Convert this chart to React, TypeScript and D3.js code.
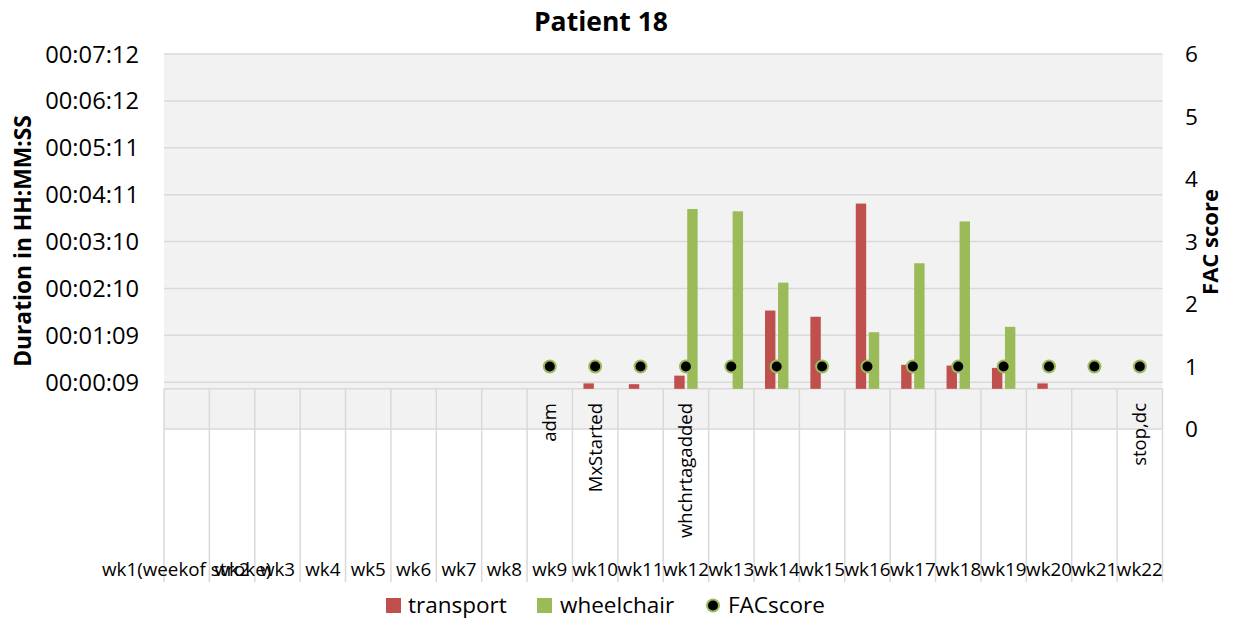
import React from "react";
import * as d3 from "d3";

const weeks = [
  "wk1(weekof stroke)", "wk2", "wk3", "wk4", "wk5", "wk6", "wk7", "wk8", "wk9", "wk10", "wk11",
  "wk12", "wk13", "wk14", "wk15", "wk16", "wk17", "wk18", "wk19", "wk20", "wk21", "wk22",
];
const events = [
  "", "", "", "", "", "", "", "", "adm", "MxStarted", "", "whchrtagadded", "", "", "", "", "", "", "", "", "", "stop,dc",
];
// durations in seconds
const transport: (number | null)[] = [
  null, null, null, null, null, null, null, null, null, 7, 6, 17, null, 101, 93, 239, 31, 30, 27, 7, null, null,
];
const wheelchair: (number | null)[] = [
  null, null, null, null, null, null, null, null, null, null, null, 232, 229, 137, null, 73, 162, 216, 80, null, null, null,
];
const facScore: (number | null)[] = [
  null, null, null, null, null, null, null, null, 1, 1, 1, 1, 1, 1, 1, 1, 1, 1, 1, 1, 1, 1,
];
// left axis (seconds): Excel range -0.0006 .. 0.005 days, major 0.0007 days
const leftDomain = [-51.84, 432];
const leftTickValues = [8.64, 69.12, 129.6, 190.08, 250.56, 311.04, 371.52, 432];
const leftTickLabels = ["00:00:09", "00:01:09", "00:02:10", "00:03:10", "00:04:11", "00:05:11", "00:06:12", "00:07:12"];
const rightTicks = [0, 1, 2, 3, 4, 5, 6];
const seriesNames = ["transport", "wheelchair"];

const W = 1233, H = 621;
const L = 164, R = 1162.5, T = 54, B = 429;
const RED = "#c0504d", GREEN = "#9bbb59", GRID = "#d9d9d9";
const FONT = "'Open Sans', sans-serif";

export default function App() {
  const x = d3.scaleBand<string>().domain(weeks).range([L, R]).padding(0);
  const xs = d3.scaleBand<string>().domain(seriesNames).range([0, x.bandwidth()]).paddingInner(0.2).paddingOuter(0.844);
  const yL = d3.scaleLinear().domain(leftDomain).range([B, T]);
  const yR = d3.scaleLinear().domain([0, 6]).range([B, T]);
  const y0 = yL(0);
  const catBottom = 582;
  const bounds = d3.range(weeks.length + 1).map((i) => L + i * x.step());

  return (
    <svg width={W} height={H} style={{ position: "absolute", left: 0, top: 0, background: "#fff" }} fontFamily={FONT}>
      <rect x={0} y={0} width={W} height={H} fill="#fff" />
      <text x={601} y={31} textAnchor="middle" fontWeight="bold" fontSize={26.5} fill="#000">Patient 18</text>
      <rect x={L} y={T} width={R - L} height={B - T} fill="#f2f2f2" />
      {leftTickValues.map((v, i) => (
        <line key={"g" + i} x1={L} x2={R} y1={yL(v)} y2={yL(v)} stroke={GRID} strokeWidth={1.5} />
      ))}
      {leftTickValues.map((v, i) => (
        <text key={"lt" + i} x={139} y={yL(v)} dy="0.36em" textAnchor="end" fontSize={23.7} fill="#000">{leftTickLabels[i]}</text>
      ))}
      {rightTicks.map((v) => (
        <text key={"rt" + v} x={1185} y={yR(v)} dy="0.36em" textAnchor="start" fontSize={22.5} fill="#000">{v}</text>
      ))}
      <text transform={`translate(23,241) rotate(-90)`} dy="0.35em" textAnchor="middle" fontWeight="bold" fontSize={22.8} fill="#000">Duration in HH:MM:SS</text>
      <text transform={`translate(1210,242) rotate(-90)`} dy="0.35em" textAnchor="middle" fontWeight="bold" fontSize={22} fill="#000">FAC score</text>

      {/* category axis */}
      <line x1={L} x2={R} y1={y0} y2={y0} stroke={GRID} strokeWidth={1.5} />
      <line x1={L} x2={R} y1={B} y2={B} stroke={GRID} strokeWidth={1.5} />
      {bounds.map((bx, i) => (
        <line key={"vb" + i} x1={bx} x2={bx} y1={y0} y2={catBottom} stroke={GRID} strokeWidth={1.5} />
      ))}

      {/* bars */}
      {weeks.map((w, i) => {
        const t = transport[i];
        const wc = wheelchair[i];
        return (
          <g key={"b" + i}>
            {t != null && (
              <rect x={(x(w) as number) + (xs("transport") as number)} y={yL(t)} width={xs.bandwidth()} height={y0 - yL(t)} fill={RED} />
            )}
            {wc != null && (
              <rect x={(x(w) as number) + (xs("wheelchair") as number)} y={yL(wc)} width={xs.bandwidth()} height={y0 - yL(wc)} fill={GREEN} />
            )}
          </g>
        );
      })}

      {/* FAC score markers */}
      {weeks.map((w, i) => {
        const f = facScore[i];
        if (f == null) return null;
        return <circle key={"f" + i} cx={(x(w) as number) + x.bandwidth() / 2} cy={yR(f)} r={6} fill="#000" stroke={GREEN} strokeWidth={2} />;
      })}

      {/* category labels */}
      {weeks.map((w, i) => (
        events[i] ? (
          <text key={"ev" + i} transform={`translate(${(x(w) as number) + x.bandwidth() / 2},403) rotate(-90)`} dy="0.35em" textAnchor="end" fontSize={18.5} fill="#000">{events[i]}</text>
        ) : null
      ))}
      {weeks.map((w, i) => (
        <text key={"wk" + i} x={(x(w) as number) + x.bandwidth() / 2} y={576} textAnchor="middle" fontSize={18.8} fill="#000">{w}</text>
      ))}

      {/* legend */}
      <rect x={386} y={598} width={15} height={15} fill={RED} />
      <text x={408} y={613} fontSize={22.5} fill="#000">transport</text>
      <rect x={537} y={598} width={15} height={15} fill={GREEN} />
      <text x={560} y={613} fontSize={22.5} fill="#000">wheelchair</text>
      <circle cx={713} cy={605.5} r={6} fill="#000" stroke={GREEN} strokeWidth={2} />
      <text x={728} y={613} fontSize={22.5} fill="#000">FACscore</text>
    </svg>
  );
}
